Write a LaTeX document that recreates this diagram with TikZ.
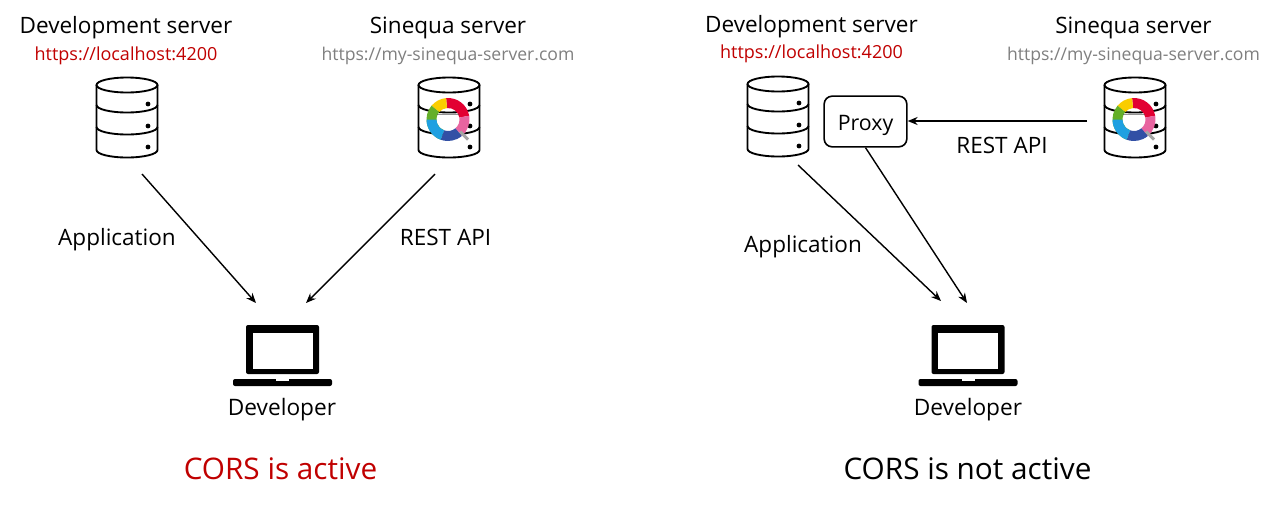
\documentclass[tikz,border=0pt]{standalone}
\usepackage{fontspec}
\setmainfont{Open Sans}
\usetikzlibrary{arrows.meta}
\definecolor{corsred}{RGB}{192,0,0}
\definecolor{urlgrey}{RGB}{127,127,127}
\definecolor{ringred}{RGB}{226,0,50}
\definecolor{ringpink}{RGB}{232,100,160}
\definecolor{ringyellow}{RGB}{250,205,0}
\definecolor{ringgreen}{RGB}{100,175,40}
\definecolor{ringblue}{RGB}{30,160,225}
\definecolor{ringdark}{RGB}{50,80,165}
\tikzset{
    flow/.style={-{Stealth[length=7.5pt,width=6pt]}, line width=1.05pt},
    title/.style={font=\fontsize{16.9}{20}\selectfont, inner sep=0pt},
    url/.style={font=\fontsize{13.5}{16}\selectfont, inner sep=0pt},
    urlgray/.style={font=\fontsize{13.2}{16}\selectfont, inner sep=0pt, text=urlgrey},
    label/.style={font=\fontsize{16.9}{20}\selectfont, inner sep=0pt},
    verdict/.style={font=\fontsize{22.3}{26}\selectfont, inner sep=0pt},
    devname/.style={font=\fontsize{17}{20}\selectfont, inner sep=0pt},
    proxybox/.style={draw, line width=1.2pt, rounded corners=6pt, minimum width=62pt, minimum height=38pt, inner sep=0pt, text height=18pt, text depth=4pt, font=\fontsize{16}{19}\selectfont},
    % database icon, origin at its centre
    pics/dbicon/.style={code={
        \draw[line width=1.4pt] (-30.5,-33) -- (-30.5,32) arc[start angle=180, end angle=0, x radius=30.5, y radius=7.5] -- (30.5,-33);
        \draw[line width=1.4pt] (0,-33) ellipse [x radius=30.5, y radius=7.5];
        \draw[line width=1.4pt] (-30.5,-13) arc[start angle=180, end angle=0, x radius=30.5, y radius=7.5];
        \draw[line width=1.4pt] (-30.5,9) arc[start angle=180, end angle=0, x radius=30.5, y radius=7.5];
        \foreach \doty in {-14,8,29} \fill (21,\doty) circle (2.4);
    }},
    % laptop icon, origin at the middle of the screen
    pics/laptop/.style={code={
        \fill[rounded corners=1.5pt] (-36.5,-24.5) rectangle (36.5,24.5);
        \fill[white] (-30,-17) rectangle (30,19);
        \fill[rounded corners=1.5pt] (-49.5,29.5) rectangle (49.5,36.5);
        \fill[white] (-6.5,29.5) rectangle (6.5,31.5);
    }},
    % ring logo, origin at its centre, y pointing up
    pics/ringlogo/.style={code={
        \begin{scope}[yscale=-1]
        \foreach \ra/\rb/\ringcol in {95/10/ringred, 10/-50/ringpink, 140/95/ringyellow, 250/140/ringgreen, 310/250/ringdark, 250/180/ringblue} {
            \fill[\ringcol] (\ra:21.5) arc[start angle=\ra, end angle=\rb, radius=21.5] -- (\rb:11.5) arc[start angle=\rb, end angle=\ra, radius=11.5] -- cycle;
        }
        \draw[black!70, line width=0.9pt, opacity=.6] (-11,5) -- (11,5);
        \draw[urlgrey!70, line width=2.2pt] (12,-12) -- (20,-20);
        \end{scope}
    }},
}
\begin{document}
\begin{tikzpicture}[x=0.75pt, y=-0.75pt]
    \useasboundingbox (0,0) rectangle (1281,508);

    % Left panel, CORS active
    \node[title] (devA) at (126,28) {Development server};
    \node[url, text=corsred] (devAurl) at (126,56) {https://localhost:4200};
    \node[title] (sinA) at (448,28) {Sinequa server};
    \node[urlgray] (sinAurl) at (448,56) {https://my-sinequa-server.com};
    \pic at (127,118) {dbicon};
    \pic at (449,118) {dbicon};
    \pic at (448,119.5) {ringlogo};
    \pic at (282.5,349.5) {laptop};
    \node[devname] (userA) at (282,410) {Developer};
    \node[verdict, text=corsred] (corsA) at (280.5,469) {CORS is active};

    \coordinate (appA) at (142,174);
    \coordinate (restA) at (435,174);
    \coordinate (inA) at (256,303);
    \coordinate (inB) at (306,303);
    \draw[flow] (appA) -- (inA);
    \draw[flow] (restA) -- (inB);
    \node[label] (appAlabel) at (117,240) {Application};
    \node[label] (restAlabel) at (445.5,237) {REST API};

    % Right panel, CORS not active
    \node[title] (devB) at (811.5,27) {Development server};
    \node[url, text=corsred] (devBurl) at (811.5,54) {https://localhost:4200};
    \node[title] (sinB) at (1133.5,28) {Sinequa server};
    \node[urlgray] (sinBurl) at (1133.5,56) {https://my-sinequa-server.com};
    \pic at (778,117) {dbicon};
    \pic at (1135,118) {dbicon};
    \pic at (1134,119.5) {ringlogo};
    \pic at (968,349.5) {laptop};
    \node[devname] (userB) at (968,410) {Developer};
    \node[verdict] (corsB) at (967.5,469) {CORS is not active};

    \node[proxybox] (proxy) at (865.5,121.5) {Proxy};
    \coordinate (appB) at (798,165);
    \coordinate (restB) at (1087,121);
    \coordinate (inC) at (941,301);
    \coordinate (inD) at (967,303);
    \draw[flow] (appB) -- (inC);
    \draw[flow] (proxy.south) -- (inD);
    \draw[flow] (restB) -- (proxy.east |- restB);
    \node[label] (appBlabel) at (803,247) {Application};
    \node[label] (restBlabel) at (1002,145) {REST API};
\end{tikzpicture}
\end{document}
